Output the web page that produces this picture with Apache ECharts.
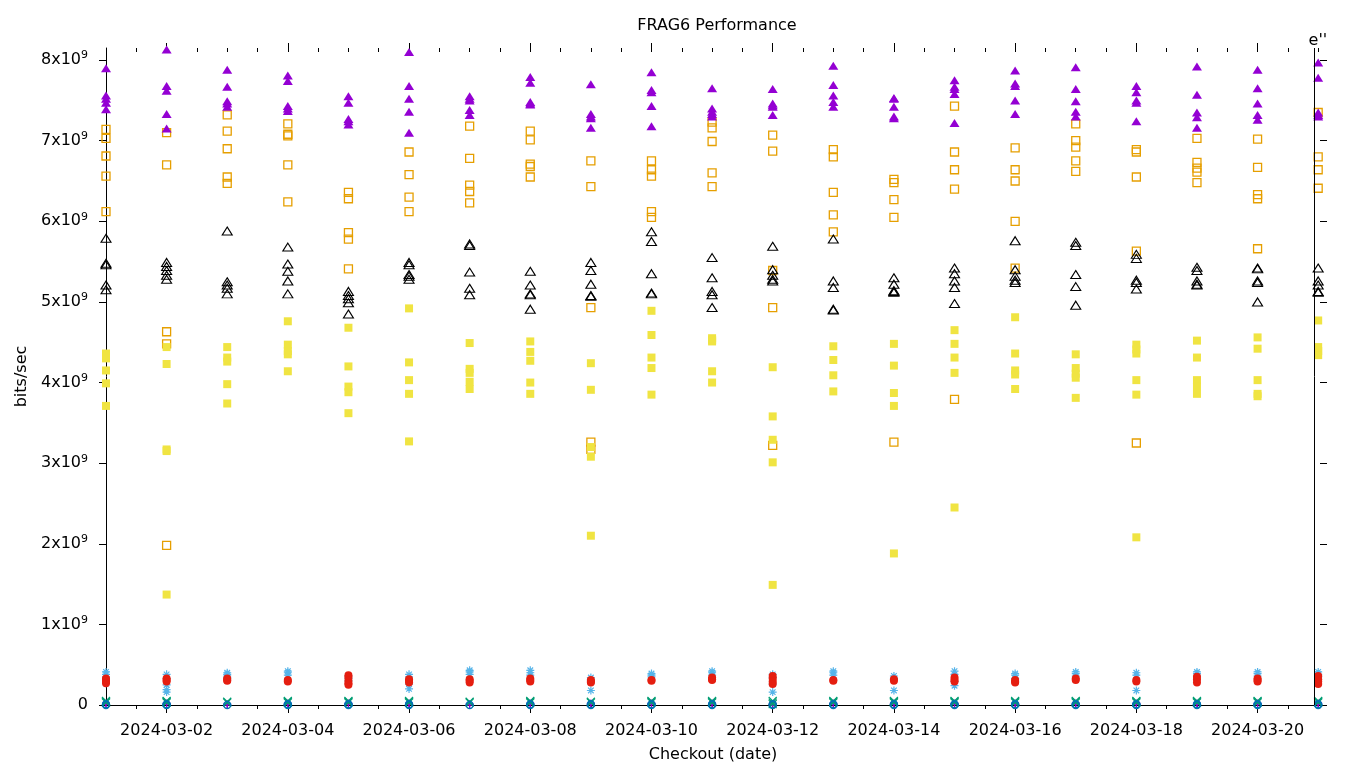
<!DOCTYPE html>
<html>
<head>
<meta charset="utf-8">
<script src="https://cdn.jsdelivr.net/npm/echarts@6/dist/echarts.min.js"></script>
<style>
html,body{margin:0;padding:0;background:#fff;}
#chart{width:1360px;height:768px;}
</style>
</head>
<body>
<div id="chart"></div>
<script>
// ---- DATA (values in units of 1e9 bits/sec) ----
const dates = ['2024-03-01','2024-03-02','2024-03-03','2024-03-04','2024-03-05','2024-03-06','2024-03-07',
  '2024-03-08','2024-03-09','2024-03-10','2024-03-11','2024-03-12','2024-03-13','2024-03-14',
  '2024-03-15','2024-03-16','2024-03-17','2024-03-18','2024-03-19','2024-03-20','2024-03-21'];
const labelDates = ['2024-03-02','2024-03-04','2024-03-06','2024-03-08','2024-03-10',
  '2024-03-12','2024-03-14','2024-03-16','2024-03-18','2024-03-20'];
const yTicks = [0,1,2,3,4,5,6,7,8];
const markers = [{time:'2024-03-20T22:12:00', label:"e''"}];

const s1Plus = [[0.02,0.01],[0.02,0.01],[0.01,0.00],[0.02,0.01],[0.02,0.01],[0.02,0.01],[0.01,0.00],
  [0.02,0.01],[0.02,0.01],[0.02,0.01],[0.02,0.01],[0.01,0.00],[0.02,0.01],[0.02,0.01],
  [0.02,0.01],[0.02,0.01],[0.02,0.01],[0.02,0.01],[0.02,0.01],[0.02,0.01],[0.02,0.01]];
const s2Cross = [[0.05,0.04,0.03],[0.05,0.04,0.03],[0.04,0.03],[0.05,0.04,0.03],[0.05,0.04,0.03],[0.05,0.04,0.03],[0.04,0.03],
  [0.05,0.04,0.03],[0.04,0.03],[0.05,0.04,0.03],[0.05,0.04,0.03],[0.05,0.03,0.01],[0.05,0.04,0.03],[0.05,0.04,0.03],
  [0.05,0.04,0.03],[0.05,0.04,0.03],[0.05,0.04,0.03],[0.05,0.04,0.03],[0.05,0.04,0.03],[0.05,0.04,0.03],[0.05,0.04,0.03]];
const s3Star = [[0.41,0.38,0.35,0.31,0.27],[0.38,0.33,0.25,0.19,0.16],[0.40,0.38,0.36,0.34],[0.42,0.40,0.37],
  [0.36,0.33,0.30],[0.38,0.35,0.26,0.20],[0.43,0.41,0.38],[0.43,0.40,0.37],[0.34,0.31,0.18],
  [0.39,0.37,0.35],[0.42,0.40,0.37],[0.38,0.34,0.26,0.16],[0.42,0.40,0.37],[0.36,0.33,0.18],
  [0.42,0.38,0.29,0.24],[0.39,0.37,0.33],[0.41,0.39,0.36],[0.40,0.37,0.18],[0.41,0.39,0.36],
  [0.41,0.39,0.36],[0.41,0.38,0.35]];
const s4OpenSq = [[7.14,7.03,6.81,6.56,6.12],[7.10,6.70,4.63,4.48,1.98],[7.32,7.12,6.90,6.55,6.47],
  [7.21,7.08,7.06,6.70,6.24],[6.36,6.28,5.86,5.78,5.41],[6.86,6.58,6.30,6.12],[7.18,6.78,6.45,6.37,6.23],
  [7.12,7.01,6.71,6.68,6.55],[6.75,6.43,4.93,3.26,3.17],[6.75,6.64,6.56,6.12,6.05],[7.23,7.16,6.99,6.60,6.43],
  [7.07,6.87,5.39,4.93,3.22],[6.89,6.80,6.36,6.08,5.87],[6.52,6.48,6.27,6.05,3.26],[7.43,6.86,6.64,6.40,3.79],
  [6.91,6.64,6.50,6.00,5.42],[7.21,7.00,6.92,6.75,6.62],[6.89,6.86,6.55,5.63,3.25],[7.03,6.73,6.66,6.61,6.48],
  [7.02,6.67,6.33,6.28,5.66],[7.35,6.80,6.64,6.41]];
const s5FilledSq = [[4.36,4.30,4.15,3.99,3.71],[4.44,4.23,3.17,3.15,1.37],[4.44,4.31,4.26,3.98,3.74],
  [4.76,4.47,4.39,4.35,4.14],[4.68,4.20,3.95,3.88,3.62],[4.92,4.25,4.03,3.86,3.27],[4.49,4.17,4.12,4.01,3.92],
  [4.51,4.38,4.27,4.00,3.86],[4.24,3.91,3.20,3.08,2.10],[4.89,4.59,4.31,4.18,3.85],[4.55,4.53,4.51,4.14,4.00],
  [4.19,3.58,3.29,3.01,1.49],[4.45,4.28,4.09,3.89],[4.48,4.21,3.87,3.71,1.88],[4.65,4.48,4.31,4.12,2.45],
  [4.81,4.36,4.15,4.10,3.92],[4.35,4.18,4.11,4.06,3.81],[4.47,4.41,4.36,4.03,3.85,2.08],[4.52,4.31,4.03,3.95,3.86],
  [4.56,4.42,4.03,3.86,3.83],[4.77,4.44,4.39,4.34]];
const s6Circle = [[0.01,0.00],[0.01,0.00],[0.00],[0.01,0.00],[0.01,0.00],[0.01,0.00],[0.00],
  [0.01,0.00],[0.01,0.00],[0.01,0.00],[0.01,0.00],[0.01,0.00],[0.01,0.00],[0.01,0.00],
  [0.01,0.00],[0.01,0.00],[0.01,0.00],[0.01,0.00],[0.01,0.00],[0.01,0.00],[0.01,0.00]];
const s7Dot = [[0.33,0.31,0.29,0.27],[0.33,0.31,0.29],[0.33,0.31,0.30],[0.31,0.29],[0.37,0.34,0.30,0.27,0.25],
  [0.32,0.30,0.28],[0.32,0.30,0.28],[0.33,0.31,0.29],[0.31,0.29,0.28],[0.31,0.30],[0.34,0.32,0.31],
  [0.36,0.33,0.29,0.26],[0.31,0.30],[0.32,0.30],[0.34,0.31,0.29],[0.31,0.29,0.28],[0.33,0.31],
  [0.31,0.29],[0.35,0.32,0.28],[0.33,0.31,0.29],[0.36,0.32,0.29,0.26]];
const s8OpenTri = [[5.79,5.48,5.46,5.21,5.15],[5.49,5.44,5.39,5.33,5.28],[5.88,5.25,5.21,5.17,5.10],
  [5.68,5.47,5.38,5.26,5.10],[5.13,5.08,5.04,4.99,4.85],[5.49,5.46,5.34,5.32,5.28],[5.72,5.70,5.37,5.17,5.09],
  [5.38,5.21,5.10,5.09,4.91],[5.49,5.39,5.22,5.08,5.07],[5.87,5.75,5.35,5.11,5.10],[5.55,5.30,5.13,5.09,4.93],
  [5.69,5.40,5.33,5.28,5.26],[5.78,5.26,5.18,4.91,4.90],[5.30,5.22,5.14,5.13,5.12],[5.42,5.35,5.26,5.18,4.98],
  [5.76,5.40,5.32,5.27,5.24],[5.74,5.70,5.34,5.19,4.96],[5.59,5.54,5.27,5.24,5.16],[5.43,5.39,5.26,5.22,5.21],
  [5.42,5.41,5.26,5.24,5.00],[5.42,5.26,5.21,5.13,5.12]];
const s9FilledTri = [[7.90,7.56,7.52,7.47,7.39],[8.13,7.68,7.62,7.33,7.15],[7.88,7.67,7.49,7.46,7.42],
  [7.81,7.74,7.43,7.40,7.37],[7.55,7.47,7.27,7.24,7.20],[8.10,7.68,7.52,7.36,7.10],[7.55,7.52,7.50,7.38,7.32],
  [7.79,7.72,7.48,7.46,7.45],[7.70,7.33,7.30,7.28,7.16],[7.85,7.63,7.60,7.43,7.18],[7.65,7.40,7.36,7.33,7.30],
  [7.64,7.46,7.44,7.42,7.32],[7.93,7.69,7.56,7.48,7.42],[7.53,7.52,7.42,7.30,7.28],[7.75,7.67,7.64,7.58,7.22],
  [7.87,7.71,7.68,7.50,7.33],[7.91,7.64,7.49,7.36,7.30],[7.68,7.60,7.50,7.47,7.24],[7.92,7.57,7.35,7.29,7.16],
  [7.88,7.65,7.46,7.32,7.26],[7.97,7.78,7.35,7.32,7.30]];

// ---- BUILD ----
const DAY = 86400000;
const t0 = Date.parse(dates[0] + 'T00:00:00Z');
const dayOf = s => (Date.parse(s.length > 10 ? s + 'Z' : s + 'T00:00:00Z') - t0) / DAY;
function pts(arr){ const out=[]; arr.forEach((vals,i)=>vals.forEach(v=>out.push([i, v*1e9]))); return out; }

const halfDays = []; for (let i = 1; i <= 40; i++) halfDays.push(i/2);
const majorDays = labelDates.map(dayOf);
const FONT = 'DejaVu Sans';
const xMax = dates.length - 1 + 0.03;
const yMax = 8.15e9;

function xAx(pos, tickVals, len, inside, showLine, showLabel, extra){
  return Object.assign({
    type:'value', min:0, max:xMax, position:pos,
    axisLine:{show:showLine, onZero:false, lineStyle:{color:'#000', width:1}},
    axisTick:{show:true, inside:inside, length:len, customValues:tickVals, lineStyle:{color:'#000', width:1}},
    axisLabel:{show:showLabel},
    splitLine:{show:false}, minorTick:{show:false}
  }, extra||{});
}

const xAxes = [
  xAx('bottom', halfDays, 4, false, true, true, {
    axisLabel:{show:true, customValues:majorDays, formatter:v=>dates[Math.round(v)],
      fontSize:16, color:'#000', fontFamily:FONT, margin:18},
    name:'Checkout (date)', nameLocation:'middle', nameGap:42,
    nameTextStyle:{fontSize:16, color:'#000', fontFamily:FONT}
  }),
  xAx('bottom', majorDays, 8, false, false, false),
  xAx('top', halfDays, 4, true, false, false),
  xAx('top', majorDays, 5, false, false, false)
];

const yAxes = [
  {type:'value', min:0, max:yMax, interval:1e9, position:'left',
    axisLine:{show:true, onZero:false, lineStyle:{color:'#000'}},
    axisTick:{show:true, length:7, customValues:yTicks.map(v=>v*1e9), lineStyle:{color:'#000'}},
    axisLabel:{customValues:yTicks.map(v=>v*1e9), margin:18, color:'#000', fontFamily:FONT, fontSize:16,
      formatter:v=> v===0 ? '0' : '{m|'+Math.round(v/1e9)+'x10}{s|9}',
      rich:{m:{fontSize:16, fontFamily:FONT, color:'#000', lineHeight:20},
            s:{fontSize:11, fontFamily:FONT, color:'#000', verticalAlign:'top', lineHeight:20}}},
    splitLine:{show:false},
    name:'bits/sec', nameLocation:'middle', nameRotate:90, nameGap:66,
    nameTextStyle:{fontSize:16, color:'#000', fontFamily:FONT}
  },
  {type:'value', min:0, max:yMax, interval:1e9, position:'right',
    axisLine:{show:false, onZero:false},
    axisTick:{show:true, length:7, customValues:yTicks.map(v=>v*1e9), lineStyle:{color:'#000'}},
    axisLabel:{show:false}, splitLine:{show:false}}
];

const T = 'rgba(0,0,0,0)';
function ser(name, arr, symbol, size, fill, stroke, bw){
  return {type:'scatter', name:name, data:pts(arr), symbol:symbol, symbolSize:size,
    itemStyle:{color:fill, borderColor:stroke, borderWidth:bw, opacity:1},
    emphasis:{disabled:true}, silent:true, xAxisIndex:0, yAxisIndex:0};
}

const series = [
  ser('s1', s1Plus, 'path://M5,0L5,10M0,5L10,5', 8, T, '#9400d3', 1.2),
  ser('s2', s2Cross, 'path://M0,0L10,10M10,0L0,10', 8, T, '#009e73', 1.2),
  ser('s3', s3Star, 'path://M5,0L5,10M0,5L10,5M1.5,1.5L8.5,8.5M1.5,8.5L8.5,1.5', 8, T, '#56b4e9', 1.2),
  ser('s4', s4OpenSq, 'rect', 8, T, '#e69f00', 1.3),
  ser('s5', s5FilledSq, 'rect', 8, '#f0e442', '#f0e442', 0),
  ser('s6', s6Circle, 'circle', 7, T, '#0072b2', 1.3),
  ser('s7', s7Dot, 'circle', 8, '#e51e10', '#e51e10', 0),
  ser('s8', s8OpenTri, 'triangle', [10,8], T, '#000000', 1.1),
  ser('s9', s9FilledTri, 'triangle', [10,8], '#9400d3', '#9400d3', 0)
];
series[8].markLine = {
  silent:true, symbol:['none','none'], animation:false,
  lineStyle:{color:'#000', width:1, type:'solid'},
  label:{show:true, position:'end', formatter:p=>p.name, color:'#000', fontSize:16, fontFamily:FONT, distance:-1, offset:[4,0]},
  data: markers.map(m=>({name:m.label, xAxis:dayOf(m.time)}))
};

const chart = echarts.init(document.getElementById('chart'), null, {renderer:'canvas'});
chart.setOption({
  animation:false,
  backgroundColor:'#fff',
  title:{text:'FRAG6 Performance', left:712, textAlign:'center', top:13,
    textStyle:{fontSize:16, fontWeight:'normal', color:'#000', fontFamily:FONT}},
  grid:{left:106, right:40, top:48, bottom:63, containLabel:false, outerBoundsMode:'none'},
  tooltip:{show:false},
  xAxis:xAxes, yAxis:yAxes, series:series
});
</script>
</body>
</html>
